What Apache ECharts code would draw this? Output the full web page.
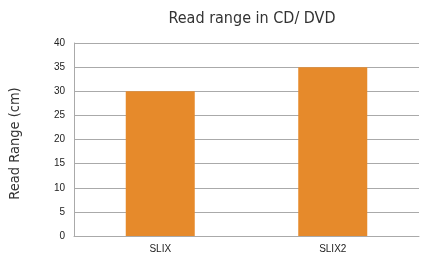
<!DOCTYPE html>
<html>
<head>
<meta charset="utf-8">
<script src="https://cdn.jsdelivr.net/npm/echarts@6/dist/echarts.min.js"></script>
<style>
  html, body { margin: 0; padding: 0; background: #fff; }
  #chart { width: 421px; height: 254px; }
</style>
</head>
<body>
<div id="chart"></div>
<script>
// 数据
const categories = ['SLIX', 'SLIX2']
const readRange = [30, 35]
const yTicks = { min: 0, max: 40, interval: 5 }

const narrowFont = "'Liberation Sans Narrow', 'DejaVu Sans Condensed', 'Roboto', sans-serif"

let myChart = echarts.init(document.getElementById('chart'))
let option = {
  animation: false,
  title: {
    text: 'Read range in CD/ DVD',
    left: 247,
    textAlign: 'center',
    top: 6,
    textStyle: {
      fontFamily: narrowFont,
      fontWeight: 'normal',
      fontSize: 16,
      color: '#333'
    }
  },
  grid: {
    left: 71,
    right: 2,
    top: 43,
    bottom: 16
  },
  xAxis: {
    type: 'category',
    data: categories,
    axisLine: { show: true, lineStyle: { color: '#aaa' } },
    axisTick: { show: false },
    axisLabel: {
      color: '#222',
      fontSize: 10,
      fontFamily: 'Liberation Sans',
      margin: 8
    }
  },
  yAxis: {
    type: 'value',
    min: yTicks.min,
    max: yTicks.max,
    interval: yTicks.interval,
    name: 'Read Range (cm)',
    nameLocation: 'middle',
    nameGap: 51,
    nameTextStyle: {
      fontFamily: narrowFont,
      fontSize: 14.5,
      color: '#333',
      padding: [0, 8, 0, 0]
    },
    axisLine: { show: true, lineStyle: { color: '#aaa' } },
    axisTick: { show: false },
    axisLabel: {
      color: '#222',
      fontSize: 10,
      fontFamily: 'Liberation Sans',
      margin: 9
    },
    splitLine: { lineStyle: { color: '#aaa' } }
  },
  series: [
    {
      type: 'bar',
      data: readRange,
      barWidth: '40%',
      itemStyle: { color: '#E68A2B' }
    }
  ]
}
myChart.setOption(option)
</script>
</body>
</html>
